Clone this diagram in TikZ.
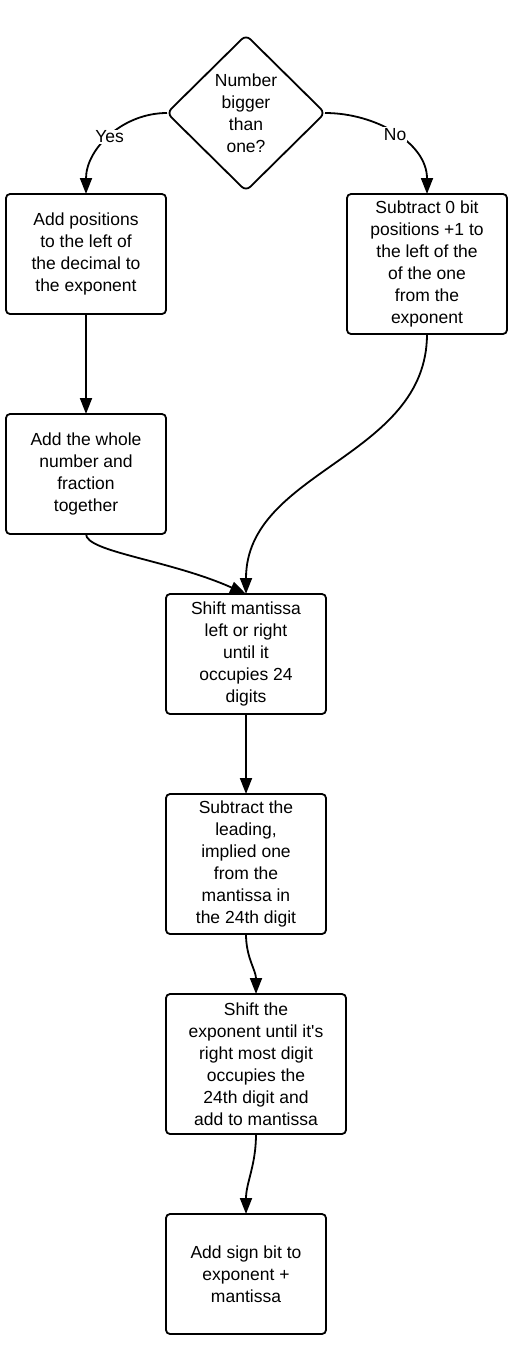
\documentclass[tikz,border=0pt]{standalone}
\usepackage{fontspec}
\setmainfont{Liberation Sans}
\usetikzlibrary{shapes.geometric,arrows.meta}
\begin{document}
\begin{tikzpicture}[x=1pt,y=-1pt,
  box/.style={draw, line width=1.8pt, rounded corners=4pt, align=center, inner sep=0pt, outer sep=0pt, font=\fontsize{17.5}{22}\selectfont},
  conn/.style={line width=1.8pt, -{Triangle[width=12pt,length=16pt]}},
  lbl/.style={fill=white, inner sep=1pt, font=\fontsize{17.5}{20}\selectfont}]
\useasboundingbox (0,0) rectangle (532,1368);
\node[box, shape=diamond, rounded corners=6pt, minimum width=158pt, minimum height=156pt] (q) at (246,113) {Number\\bigger\\than\\one?};
\node[box, minimum width=160pt, minimum height=120pt] (a) at (86,254) {Add positions\\to the left of\\the decimal to\\the exponent};
\node[box, minimum width=160pt, minimum height=140pt] (b) at (427,264) {Subtract 0 bit\\positions +1 to\\the left of the\\of the one\\from the\\exponent};
\node[box, minimum width=160pt, minimum height=120pt] (c) at (86,474) {Add the whole\\number and\\fraction\\together};
\node[box, minimum width=160pt, minimum height=120pt] (d) at (246,654) {Shift mantissa\\left or right\\until it\\occupies 24\\digits};
\node[box, minimum width=160pt, minimum height=140pt] (e) at (246,864) {Subtract the\\leading,\\implied one\\from the\\mantissa in\\the 24th digit};
\node[box, minimum width=180pt, minimum height=140pt] (f) at (256,1064) {Shift the\\exponent until it\textquotesingle s\\right most digit\\occupies the\\24th digit and\\add to mantissa};
\node[box, minimum width=160pt, minimum height=120pt] (g) at (246,1274) {Add sign bit to\\exponent +\\mantissa};
\draw[conn] (q.west) to[out=180,in=90] node[lbl, pos=0.5] (yes) {Yes} (a.north);
\draw[conn] (q.east) to[out=0,in=90] node[lbl, pos=0.5] (no) {No} (b.north);
\draw[conn] (a.south) -- (c.north);
\draw[conn] (b.south) to[out=-90,in=90] (d.north);
\draw[conn] (c.south) .. controls +(0,18) and +(-76,-34) .. (d.north);
\draw[conn] (d.south) -- (e.north);
\draw[conn] (e.south) to[out=-90,in=90] (f.north);
\draw[conn] (f.south) to[out=-90,in=90] (g.north);
\end{tikzpicture}
\end{document}
